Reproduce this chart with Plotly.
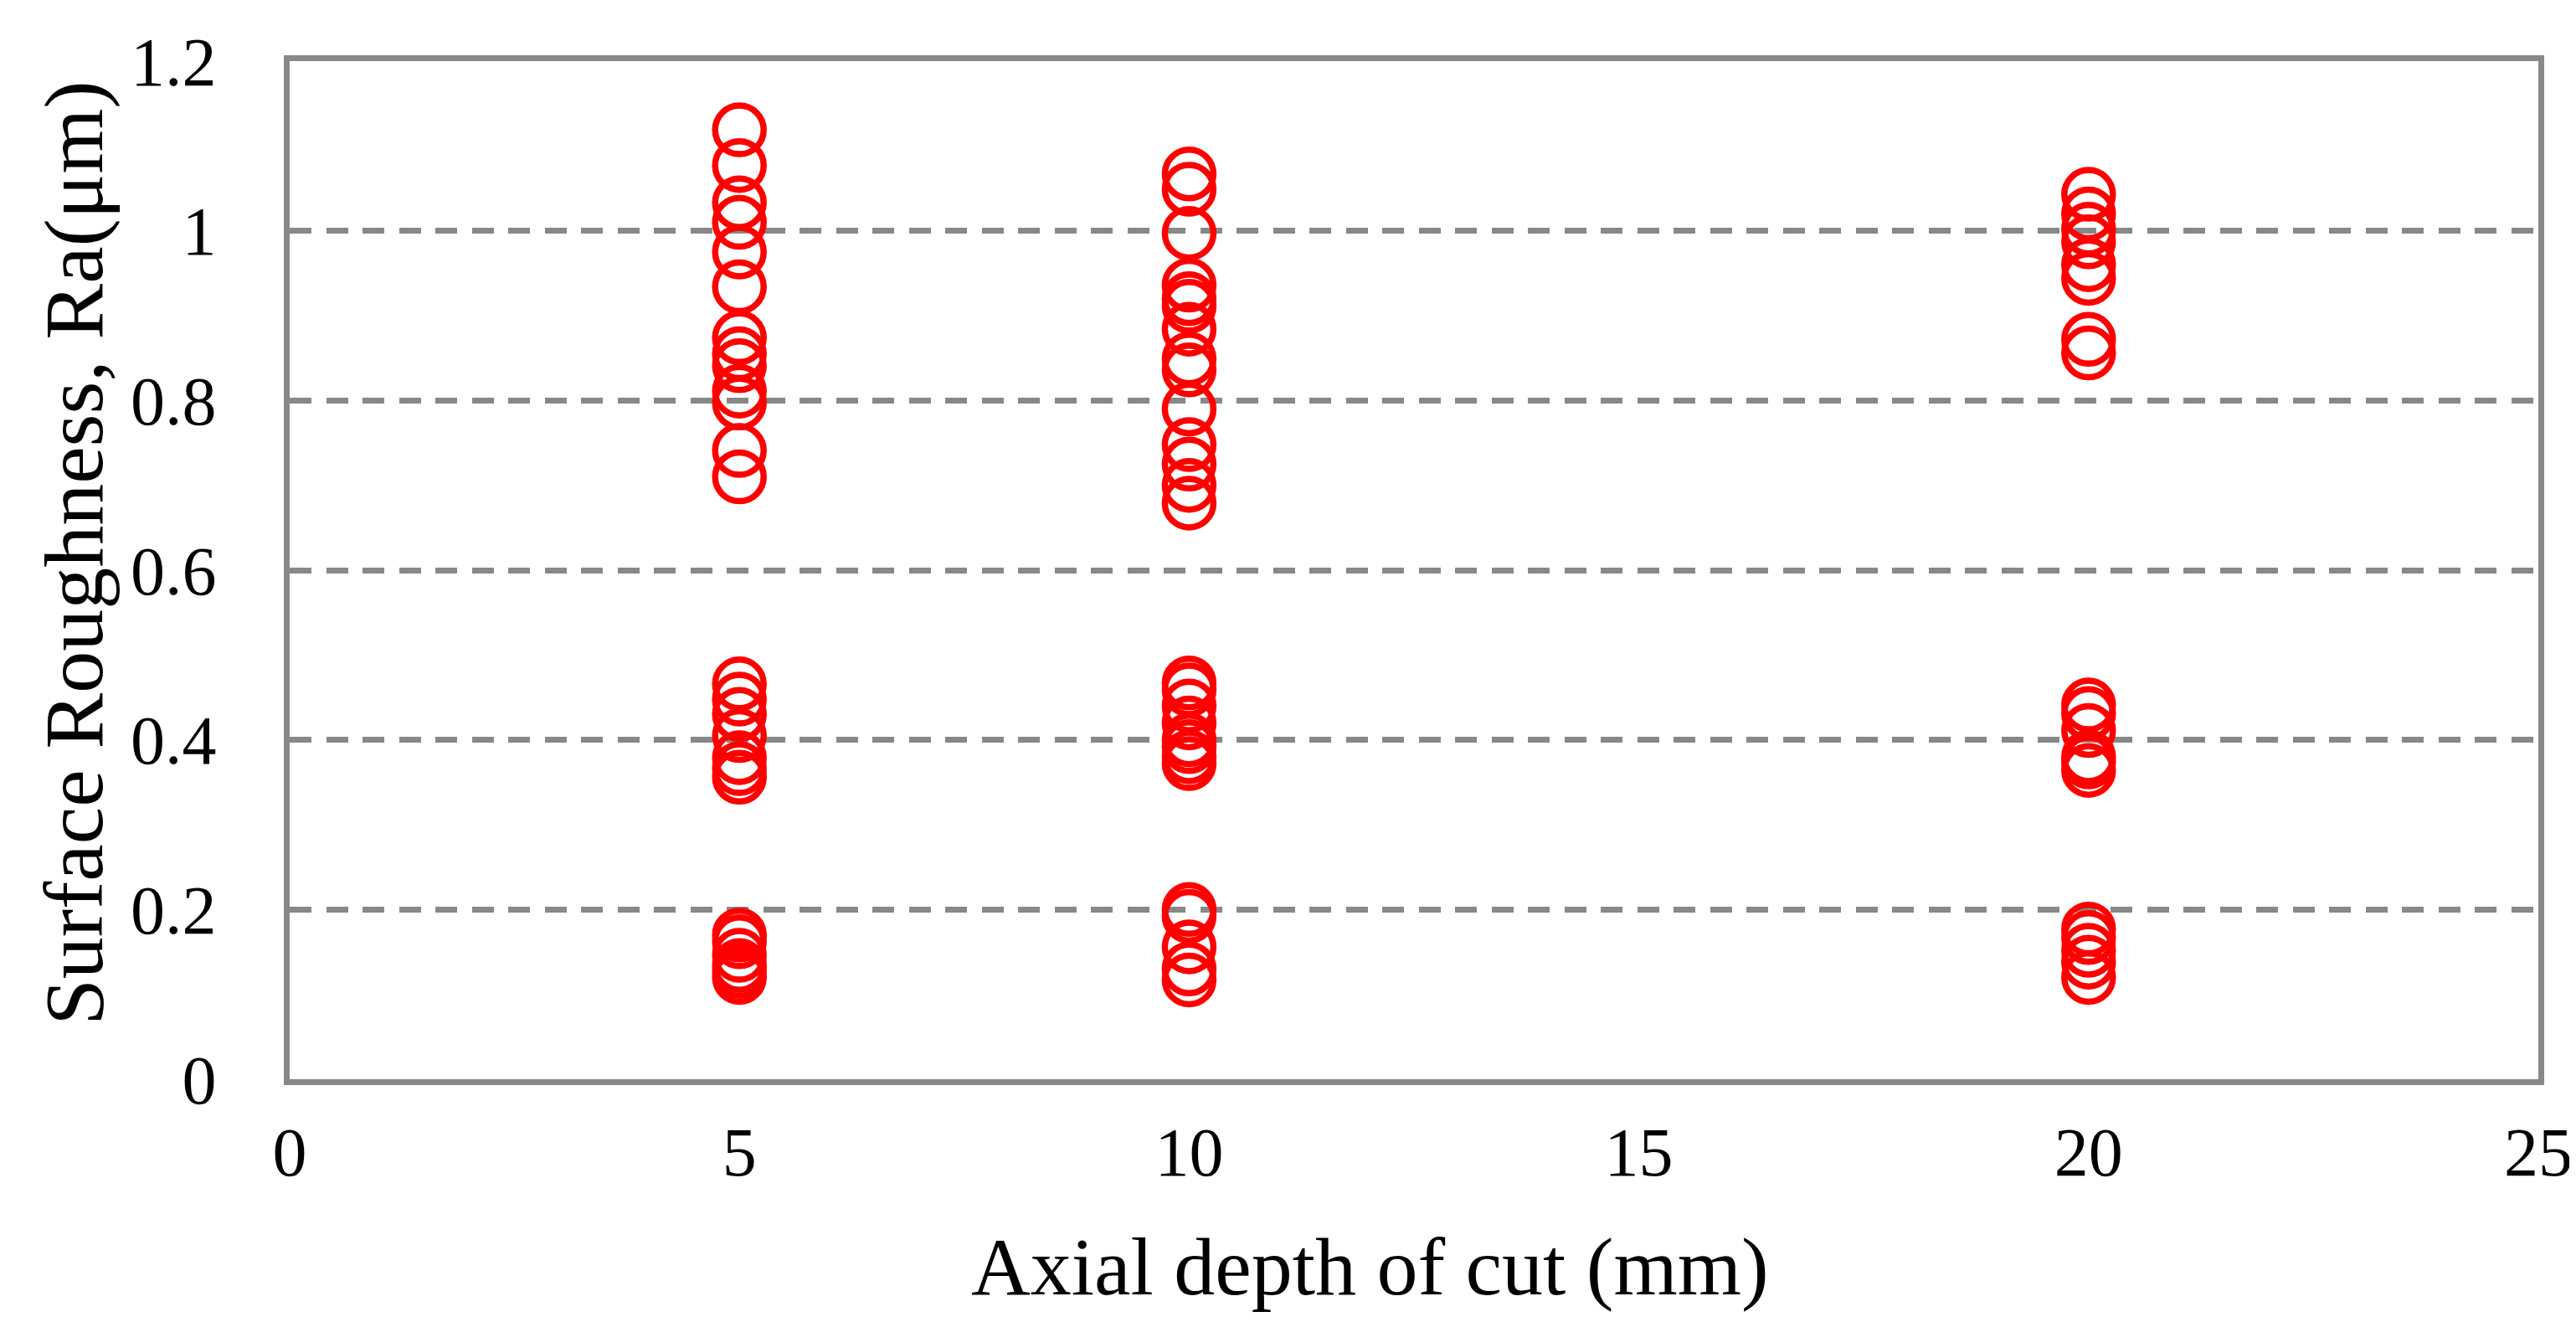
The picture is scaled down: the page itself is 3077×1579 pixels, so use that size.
import plotly.graph_objects as go

# Data
depth_levels = [5, 10, 20]
ra_depth_5 = [1.119, 1.077, 1.033, 1.010, 0.975, 0.934, 0.874, 0.855, 0.841, 0.811, 0.797, 0.741, 0.710,
              0.466, 0.448, 0.430, 0.405, 0.379, 0.366, 0.356,
              0.170, 0.162, 0.146, 0.134, 0.127, 0.120]
ra_depth_10 = [1.067, 1.049, 0.997, 0.936, 0.920, 0.911, 0.884, 0.849, 0.836, 0.790, 0.748, 0.725, 0.700, 0.679,
               0.467, 0.459, 0.440, 0.420, 0.400, 0.392, 0.380, 0.372,
               0.200, 0.192, 0.156, 0.130, 0.117]
ra_depth_20 = [1.043, 1.020, 1.002, 0.987, 0.960, 0.944, 0.872, 0.856,
               0.441, 0.431, 0.411, 0.380, 0.374, 0.364,
               0.177, 0.167, 0.152, 0.138, 0.120]

x_ticks = [0, 5, 10, 15, 20, 25]
y_ticks = [0, 0.2, 0.4, 0.6, 0.8, 1.0, 1.2]
y_tick_labels = ["0", "0.2", "0.4", "0.6", "0.8", "1", "1.2"]

x_title = "Axial depth of cut (mm)"
y_title = "Surface Roughness, Ra(μm)"

xs, ys = [], []
for d, vals in zip(depth_levels, [ra_depth_5, ra_depth_10, ra_depth_20]):
    xs += [d] * len(vals)
    ys += vals

FONT = "Liberation Serif, Times New Roman, serif"
GRAY = "#888888"

fig = go.Figure()
fig.add_trace(go.Scatter(
    x=xs, y=ys, mode="markers",
    marker=dict(symbol="circle", size=58, color="rgba(0,0,0,0)",
                line=dict(width=7.5, color="#FF0000")),
    showlegend=False, hoverinfo="x+y",
))

fig.update_layout(
    width=3077, height=1579,
    margin=dict(l=338, r=50, t=65, b=298),
    paper_bgcolor="white", plot_bgcolor="white",
    font=dict(family=FONT, color="black", size=82),
    showlegend=False,
)
fig.update_xaxes(
    range=[0, 25], tickvals=x_ticks, ticktext=[str(v) for v in x_ticks],
    showline=True, linecolor=GRAY, linewidth=7, mirror=True,
    showgrid=False, zeroline=False, ticks="",
    tickfont=dict(family=FONT, size=82, color="black"),
    ticklabelstandoff=10,
)
fig.update_yaxes(
    range=[0, 1.2], tickvals=y_ticks, ticktext=y_tick_labels,
    showline=True, linecolor=GRAY, linewidth=7, mirror=True,
    showgrid=True, gridcolor=GRAY, gridwidth=7, griddash="26px,17.5px",
    zeroline=False, ticks="",
    tickfont=dict(family=FONT, size=82, color="black"),
    ticklabelstandoff=64,
)

fig.add_annotation(
    text=x_title, xref="paper", yref="paper",
    x=(1630 - 338.5) / 2688, y=(1281 - 1505) / 1216.3,
    xanchor="center", yanchor="middle", showarrow=False,
    font=dict(family=FONT, size=98, color="black"),
)
fig.add_annotation(
    text=y_title, xref="paper", yref="paper",
    x=(80 - 338.5) / 2688, y=(1281 - 653) / 1216.3,
    xanchor="center", yanchor="middle", showarrow=False, textangle=-90,
    font=dict(family=FONT, size=100, color="black"),
)

fig.write_html("out.html")
